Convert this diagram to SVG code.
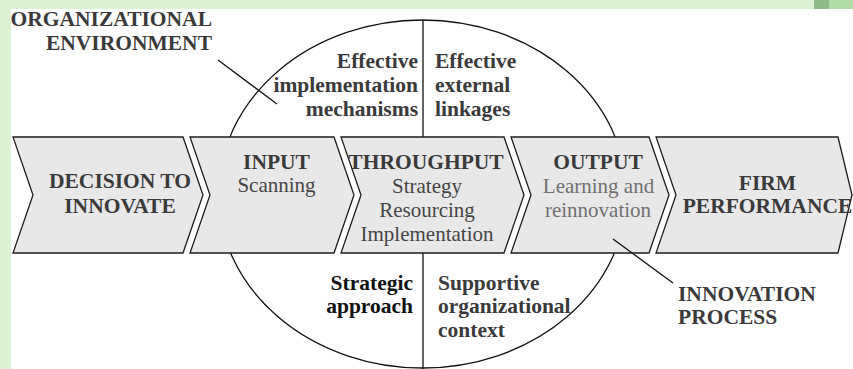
<svg xmlns="http://www.w3.org/2000/svg" width="853" height="369" viewBox="0 0 853 369">
  <defs>
    <style>
      .bg-frame { fill: #dcf2d5; }
      .canvas { fill: #ffffff; }
      .stage { fill: #e8e8e8; stroke: #1e1e1e; stroke-width: 1.3; stroke-linejoin: miter; }
      .ring { fill: none; stroke: #111111; stroke-width: 1.3; }
      .leader { fill: none; stroke: #111111; stroke-width: 1.3; }
      .t { font-family: "Liberation Serif", "Times New Roman", serif; }
      .b { font-weight: bold; font-size: 21.5px; fill: #3a3a3a; }
      .r { font-size: 21px; fill: #454545; }
      .mid { text-anchor: middle; }
      .end { text-anchor: end; }
    </style>
  </defs>

  <!-- page frame -->
  <rect class="bg-frame" x="0" y="0" width="853" height="369"/>
  <rect class="canvas" x="11" y="9" width="842" height="360"/>
  <rect x="814" y="0" width="15" height="9" fill="#8fba8a"/>
  <rect x="829" y="0" width="24" height="9" fill="#b4dca8"/>

  <!-- organizational environment ring and its dividing axis -->
  <g id="environment">
    <ellipse class="ring" cx="422.5" cy="194" rx="204" ry="174"/>
    <line class="ring" x1="423" y1="20" x2="423" y2="369"/>
  </g>

  <!-- process stages -->
  <g id="stage-decision">
    <polygon class="stage" points="13,137 183,137 203,195 183,253 13,253 33,195"/>
    <text class="t b mid" x="120" y="188">DECISION TO</text>
    <text class="t b mid" x="120" y="213">INNOVATE</text>
  </g>
  <g id="stage-input">
    <polygon class="stage" points="190,137 334,137 354,195 334,253 190,253 210,195"/>
    <text class="t b mid" x="276.5" y="169">INPUT</text>
    <text class="t r mid" x="276.5" y="192">Scanning</text>
  </g>
  <g id="stage-throughput">
    <polygon class="stage" points="341,137 504,137 524,195 504,253 341,253 361,195"/>
    <text class="t b mid" x="426" y="169">THROUGHPUT</text>
    <text class="t r mid" x="427" y="193">Strategy</text>
    <text class="t r mid" x="427" y="217">Resourcing</text>
    <text class="t r mid" x="427" y="241">Implementation</text>
  </g>
  <g id="stage-output">
    <polygon class="stage" points="511,137 649,137 669,195 649,253 511,253 531,195"/>
    <text class="t b mid" x="598" y="169">OUTPUT</text>
    <text class="t r mid" x="598.5" y="193" style="fill:#707070">Learning and</text>
    <text class="t r mid" x="598" y="217" style="fill:#707070">reinnovation</text>
  </g>
  <g id="stage-performance">
    <polygon class="stage" points="656,137 838,137 852,195 838,253 656,253 676,195"/>
    <text class="t b mid" x="767.5" y="190">FIRM</text>
    <text class="t b mid" x="767.5" y="213">PERFORMANCE</text>
  </g>

  <!-- quadrant labels -->
  <g id="implementation-mechanisms">
    <text class="t b end" x="418" y="68">Effective</text>
    <text class="t b end" x="418" y="92">implementation</text>
    <text class="t b end" x="418" y="116">mechanisms</text>
  </g>
  <g id="external-linkages">
    <text class="t b" x="435" y="68">Effective</text>
    <text class="t b" x="435" y="92">external</text>
    <text class="t b" x="435" y="116">linkages</text>
  </g>
  <g id="strategic-approach">
    <text class="t b end" x="413" y="290" style="fill:#111111">Strategic</text>
    <text class="t b end" x="413" y="313" style="fill:#111111">approach</text>
  </g>
  <g id="organizational-context">
    <text class="t b" x="438" y="290">Supportive</text>
    <text class="t b" x="438" y="313">organizational</text>
    <text class="t b" x="438" y="337">context</text>
  </g>

  <!-- callouts -->
  <g id="connectors">
    <line class="leader" x1="218" y1="60" x2="277" y2="104"/>
    <line class="leader" x1="613" y1="239" x2="673" y2="283"/>
  </g>
  <g id="organizational-environment">
    <text class="t b end" x="212" y="26">ORGANIZATIONAL</text>
    <text class="t b end" x="212" y="50">ENVIRONMENT</text>
  </g>
  <g id="innovation-process">
    <text class="t b" x="678" y="301">INNOVATION</text>
    <text class="t b" x="678" y="324">PROCESS</text>
  </g>
</svg>
